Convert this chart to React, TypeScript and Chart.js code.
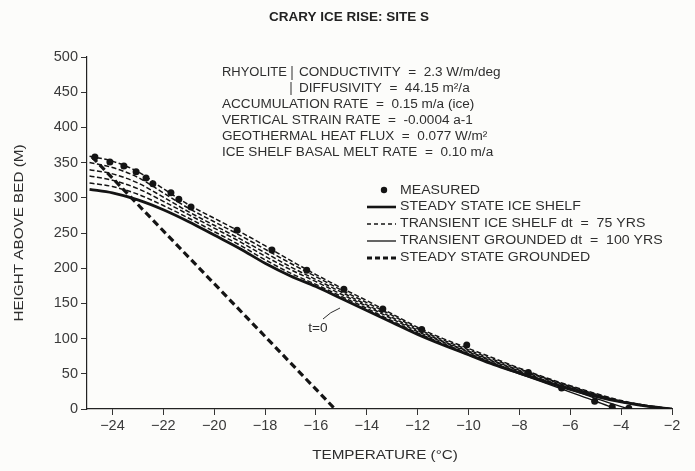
import { useEffect, useRef } from "react";
import { Chart, registerables } from "chart.js";

Chart.register(...registerables);

// ---- Axis ticks ----
const xTickValues = [-24, -22, -20, -18, -16, -14, -12, -10, -8, -6, -4, -2];
const yTickValues = [0, 50, 100, 150, 200, 250, 300, 350, 400, 450, 500];

// ---- Measured temperatures (°C) and heights above bed (m) ----
const measuredT = [-24.69, -24.1, -23.55, -23.07, -22.68, -22.41, -21.7, -21.39, -20.91, -19.1, -17.73, -16.36, -14.9, -13.37, -11.84, -10.07, -7.65, -6.34, -5.04, -4.35, -3.7];
const measuredH = [358, 351, 345, 337, 328, 320, 307, 298, 287, 254, 226, 197, 170, 142, 113, 91, 52, 30, 11, 3, 1];

// ---- Model profiles, common temperature grid ----
const bandT = [-24.9, -24, -23, -22, -21, -20, -19, -18, -17, -16, -15, -14, -13, -12, -11, -10, -9, -8, -7, -6, -5, -4, -3, -2];
// steady state ice shelf (t = 0)
const steadyShelfH = [312, 307, 297, 283, 266, 247, 228, 207, 189, 174, 157, 140, 123, 106, 91, 77, 63, 51, 39, 28, 18, 10, 4, 0];
// transient ice shelf, dt = 75 yrs
const transShelf1H = [321, 316, 305, 289, 271, 252, 233, 212, 193, 177, 160, 143, 125, 108, 93, 79, 65, 52, 40, 29, 19, 10, 4, 0];
const transShelf2H = [331, 325, 313, 295, 276, 257, 238, 217, 198, 181, 163, 146, 128, 110, 95, 81, 67, 54, 41, 30, 20, 11, 4, 0];
const transShelf3H = [340, 334, 321, 301, 280, 261, 242, 222, 202, 184, 166, 148, 130, 112, 96, 82, 68, 55, 43, 31, 20, 11, 5, 0];
const transShelf4H = [350, 343, 329, 307, 285, 266, 247, 227, 207, 188, 169, 151, 133, 114, 98, 84, 70, 57, 44, 32, 21, 11, 5, 0];
const transShelf5H = [359, 352, 337, 313, 290, 271, 252, 232, 211, 191, 172, 154, 135, 116, 100, 86, 72, 58, 45, 33, 22, 12, 5, 0];

// transient grounded, dt = 100 yrs
const transGround1T = [-11, -10, -9, -8, -7, -6, -5, -4.2];
const transGround1H = [91, 77, 63, 50, 37, 24, 11, 0];
const transGround2T = [-11, -10, -9, -8, -7, -6, -5, -4.4, -3.7];
const transGround2H = [92, 78, 64, 52, 40, 28, 15, 8, 0];

// steady state grounded
const steadyGroundT = [-24.8, -15.25];
const steadyGroundH = [358, 0];

const pts = (xs: number[], ys: number[]) => xs.map((x, i) => ({ x, y: ys[i] }));

const FONT = "'Liberation Sans', Arial, Helvetica, sans-serif";
const INK = "#141414";
const TXT = "#2e2e2e";

function drawText(
  ctx: CanvasRenderingContext2D,
  s: string,
  x: number,
  y: number,
  size: number,
  opts: { bold?: boolean; align?: CanvasTextAlign; sx?: number; color?: string } = {}
) {
  const sx = opts.sx ?? 1.13;
  ctx.save();
  ctx.font = `${opts.bold ? "bold " : ""}${size}px ${FONT}`;
  ctx.fillStyle = opts.color ?? TXT;
  ctx.textBaseline = "middle";
  ctx.textAlign = opts.align ?? "left";
  ctx.translate(x, y);
  ctx.scale(sx, 1);
  ctx.fillText(s, 0, 0);
  ctx.restore();
}

const annotationPlugin = {
  id: "annotations",
  beforeDraw(chart: any) {
    const ctx = chart.ctx as CanvasRenderingContext2D;
    ctx.save();
    ctx.fillStyle = "#fcfcfa";
    ctx.fillRect(0, 0, chart.width, chart.height);
    ctx.restore();
  },
  afterDraw(chart: any) {
    const ctx = chart.ctx as CanvasRenderingContext2D;
    // Title
    drawText(ctx, "CRARY ICE RISE: SITE S", 349, 18, 12.5, { bold: true, align: "center", sx: 1.08, color: "#222" });

    // Parameters block
    const s = 12;
    drawText(ctx, "RHYOLITE", 222, 73, s, { sx: 1.08 });
    ctx.save();
    ctx.strokeStyle = TXT;
    ctx.lineWidth = 1;
    ctx.beginPath();
    ctx.moveTo(292, 66);
    ctx.lineTo(292, 80);
    ctx.moveTo(291, 82);
    ctx.lineTo(291, 95);
    ctx.stroke();
    ctx.restore();
    drawText(ctx, "CONDUCTIVITY  =  2.3 W/m/deg", 299, 73, s);
    drawText(ctx, "DIFFUSIVITY  =  44.15 m²/a", 299, 89, s);
    drawText(ctx, "ACCUMULATION RATE  =  0.15 m/a (ice)", 222, 105, s);
    drawText(ctx, "VERTICAL STRAIN RATE  =  -0.0004 a-1", 222, 121, s);
    drawText(ctx, "GEOTHERMAL HEAT FLUX  =  0.077 W/m²", 222, 137, s);
    drawText(ctx, "ICE SHELF BASAL MELT RATE  =  0.10 m/a", 222, 153, s);

    // Legend
    const lx0 = 367;
    const lx1 = 396;
    const tx = 400;
    const ls = 12.5;
    ctx.save();
    ctx.fillStyle = INK;
    ctx.beginPath();
    ctx.arc(384, 190, 3.2, 0, Math.PI * 2);
    ctx.fill();
    ctx.restore();
    drawText(ctx, "MEASURED", tx, 191, ls);

    const legendLine = (y: number, w: number, dash: number[]) => {
      ctx.save();
      ctx.strokeStyle = INK;
      ctx.lineWidth = w;
      ctx.setLineDash(dash);
      ctx.beginPath();
      ctx.moveTo(lx0, y);
      ctx.lineTo(lx1, y);
      ctx.stroke();
      ctx.restore();
    };
    legendLine(207, 2.6, []);
    drawText(ctx, "STEADY STATE ICE SHELF", tx, 207, ls);
    legendLine(224, 1.3, [4, 3]);
    drawText(ctx, "TRANSIENT ICE SHELF dt  =  75 YRS", tx, 224, ls);
    legendLine(241, 1.3, []);
    drawText(ctx, "TRANSIENT GROUNDED dt  =  100 YRS", tx, 241, ls);
    legendLine(258, 3, [5, 3]);
    drawText(ctx, "STEADY STATE GROUNDED", tx, 258, ls);

    // t = 0 label with pointer
    drawText(ctx, "t=0", 318, 328, 13, { align: "center", sx: 1.05 });
    ctx.save();
    ctx.strokeStyle = TXT;
    ctx.lineWidth = 1;
    ctx.beginPath();
    ctx.moveTo(323, 319);
    ctx.quadraticCurveTo(330, 312, 340, 308);
    ctx.stroke();
    ctx.restore();

    // Axis titles
    drawText(ctx, "TEMPERATURE (°C)", 385, 455, 13.5, { align: "center" });
    ctx.save();
    ctx.translate(19, 233);
    ctx.rotate(-Math.PI / 2);
    drawText(ctx, "HEIGHT ABOVE BED (M)", 0, 0, 13.5, { align: "center" });
    ctx.restore();
  },
};

export default function App() {
  const canvasRef = useRef<HTMLCanvasElement | null>(null);

  useEffect(() => {
    document.body.style.margin = "0";
    const canvas = canvasRef.current;
    if (!canvas) return;

    const dashedShelf = (ys: number[]) => ({
      data: pts(bandT, ys),
      showLine: true,
      borderColor: INK,
      borderWidth: 1.5,
      borderDash: [5, 2.5],
      pointRadius: 0,
      cubicInterpolationMode: "monotone" as const,
    });

    const chart = new Chart(canvas, {
      type: "scatter",
      data: {
        datasets: [
          {
            label: "MEASURED",
            data: pts(measuredT, measuredH),
            showLine: false,
            pointRadius: 3.5,
            pointBackgroundColor: INK,
            pointBorderColor: INK,
            pointBorderWidth: 0,
          },
          {
            label: "STEADY STATE ICE SHELF",
            data: pts(bandT, steadyShelfH),
            showLine: true,
            borderColor: INK,
            borderWidth: 2.8,
            pointRadius: 0,
            cubicInterpolationMode: "monotone",
          },
          { label: "TRANSIENT ICE SHELF 1", ...dashedShelf(transShelf1H) },
          { label: "TRANSIENT ICE SHELF 2", ...dashedShelf(transShelf2H) },
          { label: "TRANSIENT ICE SHELF 3", ...dashedShelf(transShelf3H) },
          { label: "TRANSIENT ICE SHELF 4", ...dashedShelf(transShelf4H) },
          { label: "TRANSIENT ICE SHELF 5", ...dashedShelf(transShelf5H) },
          {
            label: "TRANSIENT GROUNDED 1",
            data: pts(transGround1T, transGround1H),
            showLine: true,
            borderColor: INK,
            borderWidth: 1.4,
            pointRadius: 0,
            cubicInterpolationMode: "monotone",
          },
          {
            label: "TRANSIENT GROUNDED 2",
            data: pts(transGround2T, transGround2H),
            showLine: true,
            borderColor: INK,
            borderWidth: 1.4,
            pointRadius: 0,
            cubicInterpolationMode: "monotone",
          },
          {
            label: "STEADY STATE GROUNDED",
            data: pts(steadyGroundT, steadyGroundH),
            showLine: true,
            borderColor: INK,
            borderWidth: 3.2,
            borderDash: [7, 4],
            pointRadius: 0,
          },
        ],
      },
      options: {
        animation: false,
        responsive: false,
        devicePixelRatio: 1,
        layout: { padding: { left: 0, right: 23, top: 57, bottom: 0 } },
        plugins: {
          legend: { display: false },
          tooltip: { enabled: false },
          title: { display: false },
        },
        scales: {
          x: {
            type: "linear",
            min: -25,
            max: -2,
            afterBuildTicks: (scale: any) => {
              scale.ticks = xTickValues.map((v) => ({ value: v }));
            },
            afterFit: (scale: any) => {
              scale.height = 62;
            },
            ticks: {
              autoSkip: false,
              maxRotation: 0,
              padding: 2,
              color: "#3a3a3a",
              font: { family: FONT, size: 14.5 },
              callback: (v: any) => (Number(v) < 0 ? "−" + Math.abs(Number(v)) : String(v)),
            },
            grid: {
              drawOnChartArea: false,
              drawTicks: true,
              tickLength: 6,
              tickColor: "#333",
              color: "#333",
            },
            border: { display: true, color: "#222", width: 1.2 },
          },
          y: {
            type: "linear",
            min: 0,
            max: 500,
            afterBuildTicks: (scale: any) => {
              scale.ticks = yTickValues.map((v) => ({ value: v }));
            },
            afterFit: (scale: any) => {
              scale.width = 87;
            },
            ticks: {
              autoSkip: false,
              padding: 3,
              color: "#3a3a3a",
              font: { family: FONT, size: 14.5 },
            },
            grid: {
              drawOnChartArea: false,
              drawTicks: true,
              tickLength: 6,
              tickColor: "#333",
              color: "#333",
            },
            border: { display: true, color: "#222", width: 1.2 },
          },
        },
      },
      plugins: [annotationPlugin],
    });

    return () => chart.destroy();
  }, []);

  return (
    <div style={{ width: 695, height: 471 }}>
      <canvas ref={canvasRef} width={695} height={471} style={{ display: "block" }} />
    </div>
  );
}
